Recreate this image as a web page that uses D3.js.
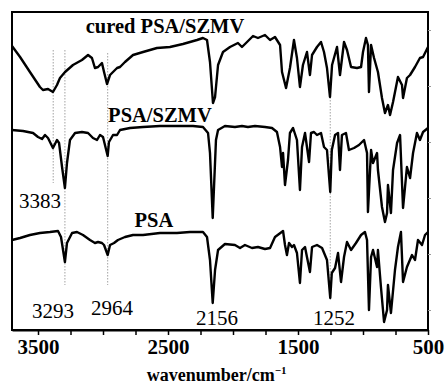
<!DOCTYPE html>
<html>
<head>
<meta charset="utf-8">
<script src="https://cdn.jsdelivr.net/npm/d3@7"></script>
<style>
  body { margin: 0; background: #fff; }
  text { font-family: "Liberation Serif", "DejaVu Serif", serif; fill: #000; }
</style>
</head>
<body>
<figure id="ftir" style="margin:0"></figure>
<script>
// wavenumber (cm-1) / offset transmittance (a.u.)
const curedWn = [3700,3638,3562,3485,3462,3423,3385,3354,3331,3292,3231,3162,3115,3085,3062,3038,3008,2992,2969,2946,2923,2892,2869,2831,2769,2692,2585,2485,2385,2277,2231,2200,2177,2154,2138,2115,2077,2023,1962,1931,1892,1846,1808,1754,1715,1677,1638,1623,1592,1562,1531,1508,1485,1462,1431,1408,1392,1354,1323,1300,1277,1254,1238,1200,1177,1146,1123,1092,1046,1015,1000,977,962,954,938,915,885,854,831,808,792,769,731,700,692,662,638,600,562,538,500];
const curedT  = [284,273,258,243,240,241,238,245,252,258,265,270,275,272,262,263,267,258,246,255,258,262,263,268,275,278,282,283,286,290,292,290,268,227,233,265,278,283,287,283,288,294,292,295,290,293,285,258,242,262,290,272,243,265,278,255,275,283,288,278,262,233,265,283,255,288,280,263,262,263,278,292,285,238,285,272,258,232,217,225,215,228,253,245,232,252,255,263,272,273,283];

const szmvWn = [3700,3615,3538,3500,3469,3446,3423,3385,3354,3338,3315,3293,3277,3254,3215,3162,3115,3077,3046,3023,3000,2964,2954,2923,2892,2869,2792,2692,2562,2431,2308,2231,2192,2177,2156,2131,2115,2062,1985,1931,1885,1831,1754,1700,1662,1638,1623,1615,1600,1577,1562,1538,1508,1485,1469,1446,1431,1415,1400,1377,1354,1323,1300,1277,1252,1240,1215,1192,1177,1162,1131,1108,1069,1031,992,969,962,938,923,892,885,854,831,815,808,785,769,738,715,692,662,638,615,585,562,538,500];
const szmvT  = [200,199,197,193,191,195,192,182,190,187,163,142,167,190,197,198,197,192,190,195,193,174,188,195,195,200,202,203,204,204,204,203,197,177,112,190,200,204,203,204,203,204,203,202,198,183,163,177,145,170,197,202,190,140,183,197,183,168,197,198,195,197,183,180,138,180,195,197,160,195,197,180,182,185,190,177,118,180,167,177,160,123,108,117,145,117,160,187,195,122,163,152,177,197,190,198,202];

const psaWn = [3700,3638,3562,3485,3408,3346,3323,3293,3277,3238,3200,3154,3100,3062,3038,3008,2992,2964,2946,2915,2885,2831,2769,2692,2562,2431,2331,2231,2200,2177,2156,2138,2115,2062,1985,1946,1908,1854,1808,1754,1715,1677,1615,1600,1585,1569,1546,1531,1508,1485,1469,1446,1431,1408,1392,1354,1315,1277,1252,1240,1215,1192,1169,1146,1123,1092,1054,1015,985,969,954,938,923,892,885,862,838,815,808,785,754,731,708,692,662,623,600,577,546,523,500];
const psaT  = [90,92,95,97,98,99,93,68,87,97,98,95,90,87,88,87,85,75,85,87,90,93,95,95,97,97,98,98,93,70,27,60,80,86,85,82,85,82,83,81,82,93,99,85,75,87,83,85,77,47,80,83,73,58,83,85,82,70,32,57,62,77,48,73,88,80,87,95,98,90,20,73,80,63,80,43,8,20,45,17,60,83,98,48,63,75,70,90,85,95,98];

const seriesNames = ["cured PSA/SZMV", "PSA/SZMV", "PSA"];
const labelWn = [2523, 2562, 2608];
const labelT  = [297, 208, 103];

const peakWn = [3383, 3293, 2964, 2156, 1252];
const peakLabelX = [3485, 3385, 2931, 2123, 1223];
const peakLabelT = [122, 12, 15, 5, 5];
// dotted guide lines: [top, bottom] in transmittance units
const guideTop = [280, 280, 277, null, 233];
const guideBottom = [147, 45, 45, null, 30];

const xTicks = [3500, 3250, 3000, 2750, 2500, 2250, 2000, 1750, 1500, 1250, 1000, 750, 500];
const xTickLabels = [3500, 2500, 1500, 500];
const rightTicks = [20, 76, 132, 188, 244, 300];

const width = 445, height = 386;
const margin = {top: 12, right: 17, bottom: 56, left: 12};

const x = d3.scaleLinear().domain([3700, 500]).range([margin.left, width - margin.right]);
const y = d3.scaleLinear().domain([0, 318]).range([height - margin.bottom, margin.top]);

const svg = d3.select("figure#ftir")
  .append("svg")
  .attr("width", width)
  .attr("height", height);

// guide lines
svg.append("g")
  .selectAll("line")
  .data(peakWn.map((w, i) => ({w, t0: guideTop[i], t1: guideBottom[i]})).filter(d => d.t0 != null))
  .enter()
  .append("line")
  .attr("x1", d => x(d.w)).attr("x2", d => x(d.w))
  .attr("y1", d => y(d.t0)).attr("y2", d => y(d.t1))
  .attr("stroke", "#8a8a8a")
  .attr("stroke-width", 0.8)
  .attr("stroke-dasharray", "1.5,1.5");

// spectra
const series = [
  {wn: curedWn, t: curedT},
  {wn: szmvWn, t: szmvT},
  {wn: psaWn, t: psaT}
];
const line = d3.line().x(d => x(d[0])).y(d => y(d[1]));
svg.append("g")
  .selectAll("path")
  .data(series)
  .enter()
  .append("path")
  .attr("d", s => line(s.wn.map((w, i) => [w, s.t[i]])))
  .attr("fill", "none")
  .attr("stroke", "#000")
  .attr("stroke-width", 2.4)
  .attr("stroke-linejoin", "round");

// frame
svg.append("rect")
  .attr("x", margin.left).attr("y", margin.top)
  .attr("width", width - margin.left - margin.right)
  .attr("height", height - margin.top - margin.bottom)
  .attr("fill", "none")
  .attr("stroke", "#000")
  .attr("stroke-width", 2);

// bottom axis
const xAxis = svg.append("g")
  .attr("transform", "translate(0," + (height - margin.bottom) + ")")
  .call(d3.axisBottom(x).tickValues(xTicks).tickSize(5).tickSizeOuter(0)
    .tickFormat(d => xTickLabels.includes(d) ? d : ""));
xAxis.select(".domain").attr("stroke-width", 2);
xAxis.selectAll(".tick line").attr("stroke-width", 1.5);
xAxis.selectAll(".tick text")
  .attr("y", 9)
  .style("font-family", "Liberation Serif")
  .style("font-size", "21px")
  .style("font-weight", "bold");

// right side small ticks
const rAxis = svg.append("g")
  .attr("transform", "translate(" + (width - margin.right) + ",0)")
  .call(d3.axisRight(y).tickValues(rightTicks).tickSize(3).tickFormat(""));
rAxis.select(".domain").remove();
rAxis.selectAll(".tick line").attr("stroke", "#999");

// axis title
svg.append("text")
  .attr("x", x(2125))
  .attr("y", 381)
  .attr("text-anchor", "middle")
  .style("font-size", "18px")
  .style("font-weight", "bold")
  .text("wavenumber/cm")
  .append("tspan")
  .attr("dy", -7)
  .style("font-size", "11px")
  .text("\u22121");

// series labels
svg.append("g")
  .selectAll("text")
  .data(seriesNames)
  .enter()
  .append("text")
  .attr("x", (d, i) => x(labelWn[i]))
  .attr("y", (d, i) => y(labelT[i]))
  .attr("text-anchor", "middle")
  .style("font-size", "20.5px")
  .style("font-weight", "bold")
  .text(d => d);

// peak labels
svg.append("g")
  .selectAll("text")
  .data(peakWn)
  .enter()
  .append("text")
  .attr("x", (d, i) => x(peakLabelX[i]))
  .attr("y", (d, i) => y(peakLabelT[i]))
  .attr("text-anchor", "middle")
  .style("font-size", "21px")
  .text(d => d);
</script>
</body>
</html>
